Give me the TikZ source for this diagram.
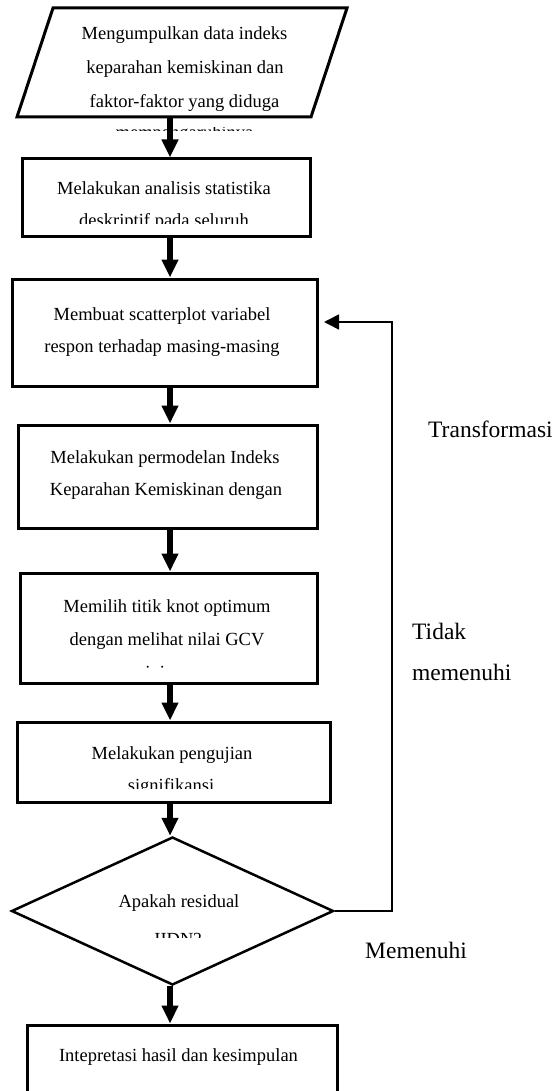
\documentclass[tikz,border=0pt]{standalone}
\usepackage{fontspec}
\setmainfont{Liberation Serif}
\usetikzlibrary{arrows.meta,shapes.geometric}
\begin{document}
\begin{tikzpicture}[x=1pt,y=-1pt,
  txt/.style={font=\fontsize{18.5}{32}\selectfont, inner sep=0pt, anchor=base},
  lbl/.style={font=\fontsize{23.5}{41}\selectfont, inner sep=0pt, anchor=base west},
  boxstyle/.style={draw, line width=3pt, rectangle, inner sep=0pt},
  flow/.style={line width=5.5pt, -{Triangle[width=16pt,length=18pt]}},
  back/.style={line width=1.6pt, -{Triangle[width=15pt,length=15pt]}}]
\useasboundingbox (0,0) rectangle (557,1091);
\clip (0,0) rectangle (557,1091);

% parallelogram (input)
\coordinate (pa) at (53,8);
\coordinate (pb) at (347,8);
\coordinate (pc) at (311,117);
\coordinate (pd) at (17,117);
\draw[line width=3pt, line join=miter] (pa) -- (pb) -- (pc) -- (pd) -- cycle;
\coordinate (pbot) at (170,117);
\node[txt] (t1a) at (184.5,39.5) {Mengumpulkan data indeks};
\node[txt] (t1b) at (185,73.5) {keparahan kemiskinan dan};
\node[txt] (t1c) at (184.5,108) {faktor-faktor yang diduga};
\begin{scope}
  \clip (0,127.5) rectangle (557,130.5);
  \node[txt] (t1d) at (184.5,139) {mempengaruhinya};
\end{scope}

% boxes
\node[boxstyle, minimum width=288pt, minimum height=78pt] (b2) at (166,198) {};
\node[boxstyle, minimum width=305pt, minimum height=107pt] (b3) at (164.5,332.5) {};
\node[boxstyle, minimum width=299pt, minimum height=103pt] (b4) at (167.5,476.5) {};
\node[boxstyle, minimum width=297pt, minimum height=110pt] (b5) at (168.5,628) {};
\node[boxstyle, minimum width=313pt, minimum height=80pt] (b6) at (173.5,762) {};
\node[draw, diamond, line width=2.5pt, inner sep=0pt, minimum width=322pt, minimum height=148pt] (d) at (172.5,911) {};
\node[boxstyle, minimum width=310pt, minimum height=75pt] (b7) at (182,1062.5) {};

% box texts
\node[txt] (t2a) at (164,195) {Melakukan analisis statistika};
\begin{scope}
  \clip (0,200) rectangle (557,223.5);
  \node[txt] (t2b) at (164,227) {deskriptif pada seluruh};
\end{scope}
\node[txt] (t3a) at (162,320) {Membuat scatterplot variabel};
\node[txt] (t3b) at (162,352) {respon terhadap masing-masing};
\node[txt] (t4a) at (165,463) {Melakukan permodelan Indeks};
\node[txt] (t4b) at (166,495) {Keparahan Kemiskinan dengan};
\node[txt] (t5a) at (167,612.5) {Memilih titik knot optimum};
\node[txt] (t5b) at (167,645.5) {dengan melihat nilai GCV};
\begin{scope}
  \clip (0,650) rectangle (557,668.5);
  \node[txt] (t5c) at (167,678) {minimum};
\end{scope}
\node[txt] (t6a) at (172,759) {Melakukan pengujian};
\begin{scope}
  \clip (0,765) rectangle (557,788);
  \node[txt] (t6b) at (171,791) {signifikansi};
\end{scope}
\node[txt] (tda) at (179,907) {Apakah residual};
\begin{scope}
  \clip (0,915) rectangle (557,937.5);
  \node[txt] (tdb) at (178,945) {IIDN?};
\end{scope}
\node[txt] (t7a) at (178.5,1061) {Intepretasi hasil dan kesimpulan};

% main flow arrows
\draw[flow] (pbot) -- (b2.north -| pbot);
\draw[flow] (b2.south -| pbot) -- (b3.north -| pbot);
\draw[flow] (b3.south -| pbot) -- (b4.north -| pbot);
\draw[flow] (b4.south -| pbot) -- (b5.north -| pbot);
\draw[flow] (b5.south -| pbot) -- (b6.north -| pbot);
\draw[flow] (b6.south -| pbot) -- (d.north -| pbot);
\draw[flow] (d.south -| pbot) -- (b7.north -| pbot);

% feedback loop
\coordinate (fbcorner) at (392,911);
\coordinate (fbtop) at (392,322);
\coordinate (fbend) at (324,322);
\draw[back] (d.east) -- (fbcorner) -- (fbtop) -- (fbend);

% labels
\node[lbl] (l1) at (428,437) {Transformasi};
\node[lbl] (l2) at (412,639) {Tidak};
\node[lbl] (l3) at (412,680) {memenuhi};
\node[lbl] (l4) at (365,958) {Memenuhi};
\end{tikzpicture}
\end{document}
